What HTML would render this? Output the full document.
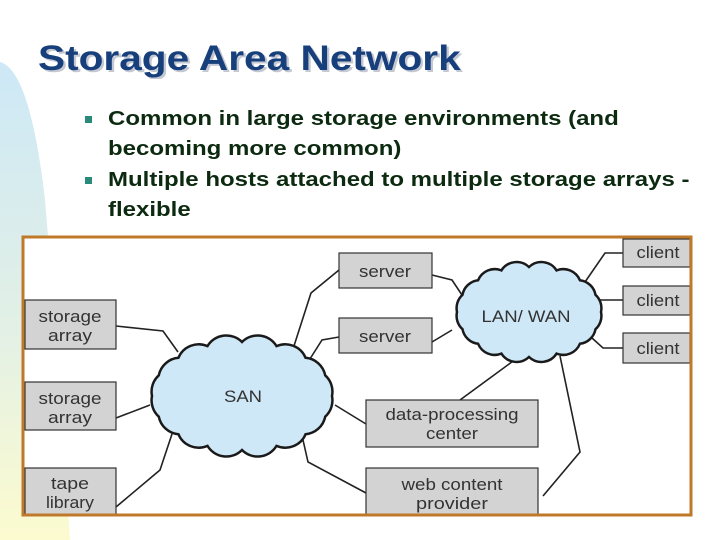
<!DOCTYPE html>
<html><head><meta charset="utf-8"><style>
*{margin:0;padding:0}
body{width:720px;height:540px;overflow:hidden;background:#fff;position:relative;font-family:"Liberation Sans",Arial,sans-serif}
.bg{position:absolute;left:0;top:0}
.title{position:absolute;left:38px;top:39px;font-size:35px;font-weight:bold;color:#173f7c;text-shadow:2px 2px 0 #c4c8d2;transform:scaleX(1.16);transform-origin:0 0;white-space:nowrap}
.b{position:absolute;left:108px;font-size:20px;font-weight:bold;color:#0c2a10;line-height:30px;transform:scaleX(1.2);transform-origin:0 0;white-space:nowrap}
.m{position:absolute;left:85px;width:7px;height:7px;background:#2a8a7a}
</style></head><body>
<svg class="bg" width="720" height="540">
<defs><linearGradient id="g" x1="0" y1="0" x2="0" y2="1"><stop offset="0" stop-color="#cde8f6"/><stop offset="0.55" stop-color="#e2f0e6"/><stop offset="1" stop-color="#fcfbcf"/></linearGradient></defs>
<path d="M0,62 Q30,70 45,200 Q60,380 70,540 L0,540 Z" fill="url(#g)"/>
</svg>
<div class="title">Storage Area Network</div>
<div class="m" style="top:116px"></div>
<div class="b" style="top:104px">Common in large storage environments (and<br>becoming more common)</div>
<div class="m" style="top:177px"></div>
<div class="b" style="top:165px">Multiple hosts attached to multiple storage arrays -<br>flexible</div>
<svg class="bg" width="720" height="540" style="font-family:'Liberation Sans',Arial,sans-serif">
<rect x="23" y="237" width="668" height="278" fill="#fff" stroke="#c0782a" stroke-width="3"/>
<g stroke="#222" stroke-width="1.6" fill="none">
<polyline points="116,326 163,331 178,352"/>
<polyline points="116,418 150,405"/>
<polyline points="116,507 160,470 173,431"/>
<polyline points="339,270 311,293 293,349"/>
<polyline points="339,337 322,340 308,362"/>
<polyline points="335,405 366,424"/>
<polyline points="303,440 308,462 366,493"/>
<polyline points="432,275 452,280 462,295"/>
<polyline points="432,342 452,330"/>
<polyline points="520,356 460,400"/>
<polyline points="560,356 580,452 543,496"/>
<polyline points="585,282 605,253 623,253"/>
<polyline points="597,300 623,300"/>
<polyline points="592,338 603,348 623,348"/>
</g>
<path fill="#cfe8f7" stroke="#1a1a1a" stroke-width="2.5" d="M332,396 A22,22 0 0 1 325.2,416.7 A22,22 0 0 1 305.6,434.2 A22,22 0 0 1 276.5,445.9 A22,22 0 0 1 242,450 A22,22 0 0 1 207.5,445.9 A22,22 0 0 1 178.4,434.2 A22,22 0 0 1 158.8,416.7 A22,22 0 0 1 152,396 A22,22 0 0 1 158.8,375.3 A22,22 0 0 1 178.4,357.8 A22,22 0 0 1 207.5,346.1 A22,22 0 0 1 242,342 A22,22 0 0 1 276.5,346.1 A22,22 0 0 1 305.6,357.8 A22,22 0 0 1 325.2,375.3 A22,22 0 0 1 332,396 Z"/>
<path fill="#cfe8f7" stroke="#1a1a1a" stroke-width="2.5" d="M601,312 A18,18 0 0 1 595.5,329.2 A18,18 0 0 1 579.9,343.8 A18,18 0 0 1 556.6,353.6 A18,18 0 0 1 529,357 A18,18 0 0 1 501.4,353.6 A18,18 0 0 1 478.1,343.8 A18,18 0 0 1 462.5,329.2 A18,18 0 0 1 457,312 A18,18 0 0 1 462.5,294.8 A18,18 0 0 1 478.1,280.2 A18,18 0 0 1 501.4,270.4 A18,18 0 0 1 529,267 A18,18 0 0 1 556.6,270.4 A18,18 0 0 1 579.9,280.2 A18,18 0 0 1 595.5,294.8 A18,18 0 0 1 601,312 Z"/>
<g fill="#d3d3d3" stroke="#333" stroke-width="1.2">
<rect x="25" y="300" width="91" height="49"/>
<rect x="25" y="382" width="91" height="48"/>
<rect x="25" y="468" width="91" height="47"/>
<rect x="339" y="253" width="93" height="35"/>
<rect x="339" y="318" width="93" height="35"/>
<rect x="366" y="400" width="172" height="47"/>
<rect x="366" y="468" width="172" height="47"/>
<rect x="623" y="239" width="67" height="28"/>
<rect x="623" y="286" width="67" height="29"/>
<rect x="623" y="333" width="67" height="30"/>
</g>
<rect x="23" y="237" width="668" height="278" fill="none" stroke="#c0782a" stroke-width="3"/>
<g font-size="16.5" fill="#333" text-anchor="middle" lengthAdjust="spacingAndGlyphs">
<text x="70" y="322" textLength="63" lengthAdjust="spacingAndGlyphs">storage</text><text x="70" y="341" textLength="44" lengthAdjust="spacingAndGlyphs">array</text>
<text x="70" y="404" textLength="63" lengthAdjust="spacingAndGlyphs">storage</text><text x="70" y="423" textLength="44" lengthAdjust="spacingAndGlyphs">array</text>
<text x="70" y="489" textLength="38" lengthAdjust="spacingAndGlyphs">tape</text><text x="70" y="508" textLength="48" lengthAdjust="spacingAndGlyphs">library</text>
<text x="385" y="277" textLength="52" lengthAdjust="spacingAndGlyphs">server</text>
<text x="385" y="342" textLength="52" lengthAdjust="spacingAndGlyphs">server</text>
<text x="452" y="420" textLength="133" lengthAdjust="spacingAndGlyphs">data-processing</text><text x="452" y="439" textLength="52" lengthAdjust="spacingAndGlyphs">center</text>
<text x="452" y="490" textLength="101" lengthAdjust="spacingAndGlyphs">web content</text><text x="452" y="509" textLength="72" lengthAdjust="spacingAndGlyphs">provider</text>
<text x="658" y="258" textLength="43" lengthAdjust="spacingAndGlyphs">client</text>
<text x="658" y="306" textLength="43" lengthAdjust="spacingAndGlyphs">client</text>
<text x="658" y="354" textLength="43" lengthAdjust="spacingAndGlyphs">client</text>
<text x="243" y="402" textLength="38" lengthAdjust="spacingAndGlyphs">SAN</text>
<text x="526" y="322" textLength="89" lengthAdjust="spacingAndGlyphs">LAN/ WAN</text>
</g>
</svg>
</body></html>
